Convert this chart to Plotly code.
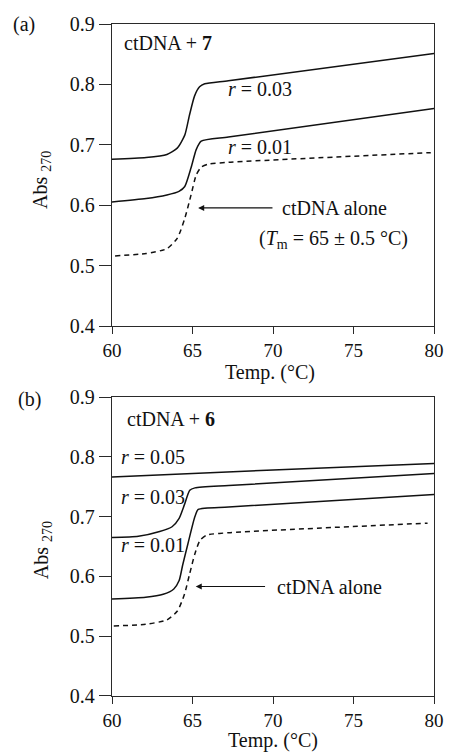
import plotly.graph_objects as go
from plotly.subplots import make_subplots

# Melting curves, panel (a): ctDNA + 7
temp_a_r003 = [60, 62.12, 63.41, 64.05, 64.52, 64.81, 65.13, 65.44, 65.76, 67.23, 80]
abs_a_r003 = [0.676, 0.679, 0.684, 0.6945, 0.716, 0.749, 0.781, 0.796, 0.801, 0.806, 0.851]

temp_a_r001 = [60, 62.12, 63.41, 64.16, 64.52, 64.91, 65.23, 65.54, 67.23, 80]
abs_a_r001 = [0.6055, 0.611, 0.617, 0.623, 0.631, 0.662, 0.692, 0.706, 0.713, 0.760]

temp_a_alone = [60.19, 62.12, 63.41, 64.05, 64.52, 64.91, 65.23, 65.54, 65.96, 67.23, 79.8]
abs_a_alone = [0.516, 0.520, 0.528, 0.545, 0.578, 0.617, 0.650, 0.663, 0.668, 0.671, 0.687]

# Melting curves, panel (b): ctDNA + 6
temp_b_r005 = [60, 70, 80]
abs_b_r005 = [0.766, 0.778, 0.789]

temp_b_r003 = [60, 61.64, 62.96, 63.73, 64.17, 64.5, 64.83, 65.15, 67.24, 80]
abs_b_r003 = [0.665, 0.667, 0.675, 0.683, 0.697, 0.720, 0.744, 0.748, 0.752, 0.772]

temp_b_r001 = [60, 62.09, 63.18, 63.84, 64.17, 64.39, 64.72, 65.15, 65.36, 67.24, 80]
abs_b_r001 = [0.562, 0.565, 0.570, 0.579, 0.593, 0.619, 0.655, 0.700, 0.712, 0.716, 0.737]

temp_b_alone = [60.11, 62.09, 63.4, 64.06, 64.5, 64.83, 65.15, 65.46, 65.88, 67.24, 79.6]
abs_b_alone = [0.517, 0.520, 0.527, 0.542, 0.570, 0.605, 0.638, 0.660, 0.669, 0.673, 0.689]

x_ticks = [60, 65, 70, 75, 80]
y_ticks = [0.4, 0.5, 0.6, 0.7, 0.8, 0.9]

FONT = "Liberation Serif, Times New Roman, serif"
INK = "#111111"
AXIS = "#2a2a2a"

fig = make_subplots(rows=2, cols=1, vertical_spacing=0.105)

solid = dict(color=INK, width=1.5, shape="spline", smoothing=0.6)
dashed = dict(color=INK, width=1.5, shape="spline", smoothing=0.6, dash="5px,4px")

for tx, ay, style, row in [
    (temp_a_r003, abs_a_r003, solid, 1),
    (temp_a_r001, abs_a_r001, solid, 1),
    (temp_a_alone, abs_a_alone, dashed, 1),
    (temp_b_r005, abs_b_r005, solid, 2),
    (temp_b_r003, abs_b_r003, solid, 2),
    (temp_b_r001, abs_b_r001, solid, 2),
    (temp_b_alone, abs_b_alone, dashed, 2),
]:
    fig.add_trace(go.Scatter(x=tx, y=ay, mode="lines", line=style,
                             showlegend=False, hoverinfo="skip"), row=row, col=1)

axis_common = dict(showline=True, linecolor=AXIS, linewidth=1.3, mirror=True,
                   ticks="outside", tickcolor=AXIS, tickwidth=1.3,
                   showgrid=False, zeroline=False)

for r in (1, 2):
    fig.update_xaxes(range=[60, 80], tickvals=x_ticks, ticklen=7,
                     tickfont=dict(family=FONT, size=19, color=INK),
                     **axis_common, row=r, col=1)
    fig.update_yaxes(range=[0.4, 0.9], tickvals=y_ticks, tickformat=".1f", ticklen=12,
                     tickfont=dict(family=FONT, size=20, color=INK),
                     **axis_common, row=r, col=1)

fig.update_yaxes(domain=[0.5526, 1.0], row=1, col=1)
fig.update_yaxes(domain=[0.0045, 0.4474], row=2, col=1)

txt = dict(family=FONT, size=20, color=INK)
ann = []


def label(text, x, y, xref, yref, **kw):
    d = dict(text=text, x=x, y=y, xref=xref, yref=yref, showarrow=False,
             xanchor="left", yanchor="middle", font=txt)
    d.update(kw)
    ann.append(d)


# Panel (a) labels
label("ctDNA + <b>7</b>", 60.64, 0.869, "x", "y")
label("<i>r</i> = 0.03", 67.1, 0.792, "x", "y")
label("<i>r</i> = 0.01", 67.1, 0.697, "x", "y")
label("ctDNA alone", 70.41, 0.5955, "x", "y")
label("(<i>T</i><sub>m</sub> = 65 ± 0.5 °C)", 68.99, 0.543, "x", "y")
ann.append(dict(x=65.35, y=0.5955, ax=70.06, ay=0.5955, xref="x", yref="y",
                axref="x", ayref="y", text="", showarrow=True, arrowhead=2,
                arrowsize=1.1, arrowwidth=1.1, arrowcolor=INK, standoff=0))

# Panel (b) labels
label("ctDNA + <b>6</b>", 60.8, 0.863, "x2", "y2")
label("<i>r</i> = 0.05", 60.43, 0.800, "x2", "y2")
label("<i>r</i> = 0.03", 60.43, 0.733, "x2", "y2")
label("<i>r</i> = 0.01", 60.43, 0.652, "x2", "y2")
label("ctDNA alone", 70.1, 0.583, "x2", "y2")
ann.append(dict(x=65.2, y=0.583, ax=69.6, ay=0.583, xref="x2", yref="y2",
                axref="x2", ayref="y2", text="", showarrow=True, arrowhead=2,
                arrowsize=1.1, arrowwidth=1.1, arrowcolor=INK, standoff=0))

# Panel tags and axis titles
label("(a)", -0.313, 1.0, "paper", "paper")
label("(b)", -0.298, 0.443, "paper", "paper")
for yc in (0.769, 0.2207):
    ann.append(dict(text="Abs <sub>270</sub>", x=-0.217, y=yc, xref="paper", yref="paper",
                    showarrow=False, textangle=-90, xanchor="center", yanchor="middle",
                    font=txt))
for xc, yc in ((0.49, 0.4844), (0.50, -0.0622)):
    ann.append(dict(text="Temp. (°C)", x=xc, y=yc, xref="paper", yref="paper",
                    showarrow=False, xanchor="center", yanchor="middle", font=txt))

fig.update_layout(
    width=456, height=754,
    margin=dict(l=112, r=12, t=24, b=55),
    paper_bgcolor="white", plot_bgcolor="white",
    font=txt,
    annotations=ann,
    showlegend=False,
)

fig.write_html("out.html", config={"displayModeBar": False})
